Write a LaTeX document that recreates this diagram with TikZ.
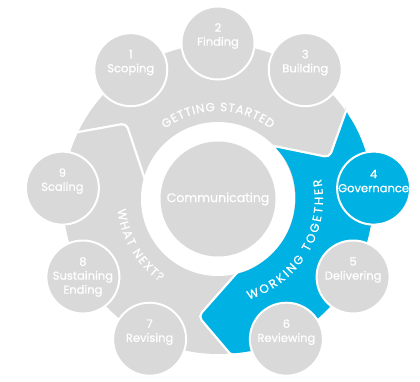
\documentclass[tikz,border=0pt]{standalone}
\usepackage{fontspec}
\setmainfont{Poppins}[FakeBold=0.8]
\usetikzlibrary{decorations.text,calc}
\definecolor{ringgray}{RGB}{217,217,217}
\definecolor{wtblue}{RGB}{0,178,227}
\begin{document}
\begin{tikzpicture}[x=1pt,y=1pt,
  stage/.style={circle, draw=white, line width=2pt, fill=ringgray, minimum size=73pt, inner sep=0pt},
  stagetext/.style={text=white, font=\fontsize{11.5}{14}\selectfont, align=center, inner sep=0pt},
  cutline/.style={draw=white, line width=2.2pt, rounded corners=5pt},
  arctext/.style={decorate, decoration={text along path, text color=white, text align=fit to path}}
]
\useasboundingbox (-218,-182) rectangle (202,199);
% band
\fill[ringgray] (0,0) circle[radius=155pt];
\fill[white] (0,0) circle[radius=77pt];
% blue sector
\fill[wtblue, rounded corners=5pt] (34.4:155) -- (20.5:119) -- (43.5:77)
  arc[start angle=43.5, end angle=-76.5, radius=77pt] -- (-99.5:119) -- (-85.6:155)
  arc[start angle=-85.6, end angle=34.4, radius=155pt] -- cycle;
% cuts
\foreach \a in {0,120,240}{
  \coordinate (cc\a) at ({20.5+\a}:119);
  \coordinate (co\a) at ({34.4+\a}:155);
  \coordinate (ci\a) at ({43.5+\a}:77);
  \draw[cutline] ($(cc\a)!1.2!(co\a)$) -- (cc\a) -- ($(cc\a)!1.15!(ci\a)$);
}
% centre
\node[circle, fill=ringgray, minimum size=115pt, inner sep=0pt, text=white, font=\fontsize{12.5}{15}\selectfont] (comm) at (0,0) {Communicating};
% stages
\node[stage] (s1) at (124:156) {};
\node[stage] (s2) at (90:156) {};
\node[stage] (s3) at (56:156) {};
\node[stage, fill=wtblue] (s4) at (4:156) {};
\node[stage] (s5) at (-30:156) {};
\node[stage] (s6) at (-64:156) {};
\node[stage] (s7) at (-116:156) {};
\node[stage] (s8) at (-150:156) {};
\node[stage] (s9) at (176:156) {};
\node[stagetext] (t1) at ([yshift=7pt]s1.center) {1\\Scoping};
\node[stagetext] (t2) at ([yshift=7pt]s2.center) {2\\Finding};
\node[stagetext] (t3) at ([yshift=7pt]s3.center) {3\\Building};
\node[stagetext] (t4) at ([yshift=7pt]s4.center) {4\\Governance};
\node[stagetext] (t5) at ([yshift=7pt]s5.center) {5\\Delivering};
\node[stagetext] (t6) at ([yshift=7pt]s6.center) {6\\Reviewing};
\node[stagetext] (t7) at ([yshift=7pt]s7.center) {7\\Revising};
\node[stagetext] (t8) at (s8.center) {8\\Sustaining\\Ending};
\node[stagetext] (t9) at ([yshift=7pt]s9.center) {9\\Scaling};
% arc labels
\path[arctext, decoration={text={|\fontsize{12}{14}\selectfont|GETTING STARTED}}]
  (127:88) arc[start angle=127, end angle=53, radius=88pt];
\path[arctext, decoration={text={|\fontsize{12}{14}\selectfont|WORKING TOGETHER}}]
  (-73:105) arc[start angle=-73, end angle=11, radius=105pt];
\path[arctext, decoration={text={|\fontsize{12}{14}\selectfont|WHAT NEXT?}}]
  (186:101) arc[start angle=186, end angle=235, radius=101pt];
\end{tikzpicture}
\end{document}
